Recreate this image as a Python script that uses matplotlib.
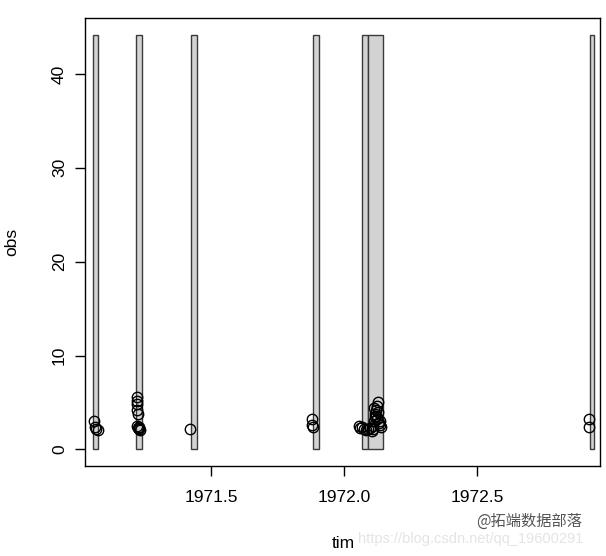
import matplotlib
matplotlib.use("Agg")
import matplotlib.pyplot as plt
from matplotlib.patches import Rectangle

# ---- data ----
win_left = [1971.0553, 1971.2180, 1971.4240, 1971.8830, 1972.0670, 1972.0880, 1972.9250]
win_right = [1971.0752, 1971.2410, 1971.4460, 1971.9060, 1972.0880, 1972.1450, 1972.9400]
win_height = 44.2

tim = [1971.061, 1971.063, 1971.066, 1971.074,
       1971.221, 1971.222, 1971.223, 1971.221, 1971.224, 1971.220, 1971.226, 1971.230, 1971.232, 1971.229,
       1971.420,
       1971.880, 1971.881, 1971.882,
       1972.0564, 1972.0602, 1972.0677, 1972.0752, 1972.0827, 1972.0902, 1972.0977, 1972.1053,
       1972.1090, 1972.1128, 1972.1165, 1972.1165, 1972.1203, 1972.1241, 1972.1278, 1972.1203,
       1972.1241, 1972.1278, 1972.1316, 1972.1353, 1972.1391, 1972.1353, 1972.1128, 1972.1090,
       1972.921, 1972.921]
obs = [3.0, 2.4, 2.2, 2.1,
       5.6, 5.2, 4.8, 4.2, 3.8, 2.5, 2.3, 2.2, 2.1, 2.4,
       2.2,
       3.2, 2.6, 2.4,
       2.5, 2.3, 2.4, 2.2, 2.1, 2.2, 2.3, 2.0,
       2.5, 3.0, 3.4, 3.8, 4.2, 4.6, 5.1, 3.6,
       3.2, 4.0, 2.8, 2.6, 2.4, 3.0, 4.4, 2.2,
       3.2, 2.4]

xticks = [1971.5, 1972.0, 1972.5]
xtick_labels = ["1971.5", "1972.0", "1972.5"]
yticks = [0, 10, 20, 30, 40]

plt.rcParams['font.family'] = ['Liberation Sans', 'DejaVu Sans']

fig = plt.figure(figsize=(6.06, 5.56), dpi=100)
ax = fig.add_axes([85/606, 1 - 466/556, (600-85)/606, (466-18)/556])

for l, r in zip(win_left, win_right):
    ax.add_patch(Rectangle((l, 0), r - l, win_height, facecolor='#D3D3D3',
                           edgecolor='#3a3a3a', linewidth=1.0, zorder=1))

ax.plot(tim, obs, linestyle='none', marker='o', markersize=7.5,
        markerfacecolor='none', markeredgecolor='black', markeredgewidth=1.0, zorder=3)

ax.set_xlim(1971.026, 1972.962)
ax.set_ylim(-1.77, 45.97)
ax.set_xticks(xticks)
ax.set_xticklabels(xtick_labels)
ax.set_yticks(yticks)
ax.set_yticklabels([str(v) for v in yticks], rotation=90, va='center')
ax.tick_params(axis='both', direction='out', length=7, width=1, labelsize=12.5, colors='black')
ax.tick_params(axis='x', pad=10)
ax.tick_params(axis='y', pad=6)
for s in ax.spines.values():
    s.set_linewidth(1)
    s.set_color('black')

fig.text(12/606, 1 - 242/556, 'obs', rotation=90, ha='center', va='center', fontsize=12.5)
fig.text(343/606, 1 - 543/556, 'tim', ha='center', va='center', fontsize=12.5)

# watermark
fig.text(358/606, 1 - 539/556, 'https://blog.csdn.net/qq_19600291', ha='left', va='center',
         fontsize=10.5, color='#e4e4e4', zorder=0)
fig.text(476/606, 1 - 521/556, '@拓端数据部落', ha='left', va='center', fontsize=11,
         color='#555555', family=['Noto Sans CJK SC', 'DejaVu Sans'])

fig.savefig('out.png', dpi=100)
